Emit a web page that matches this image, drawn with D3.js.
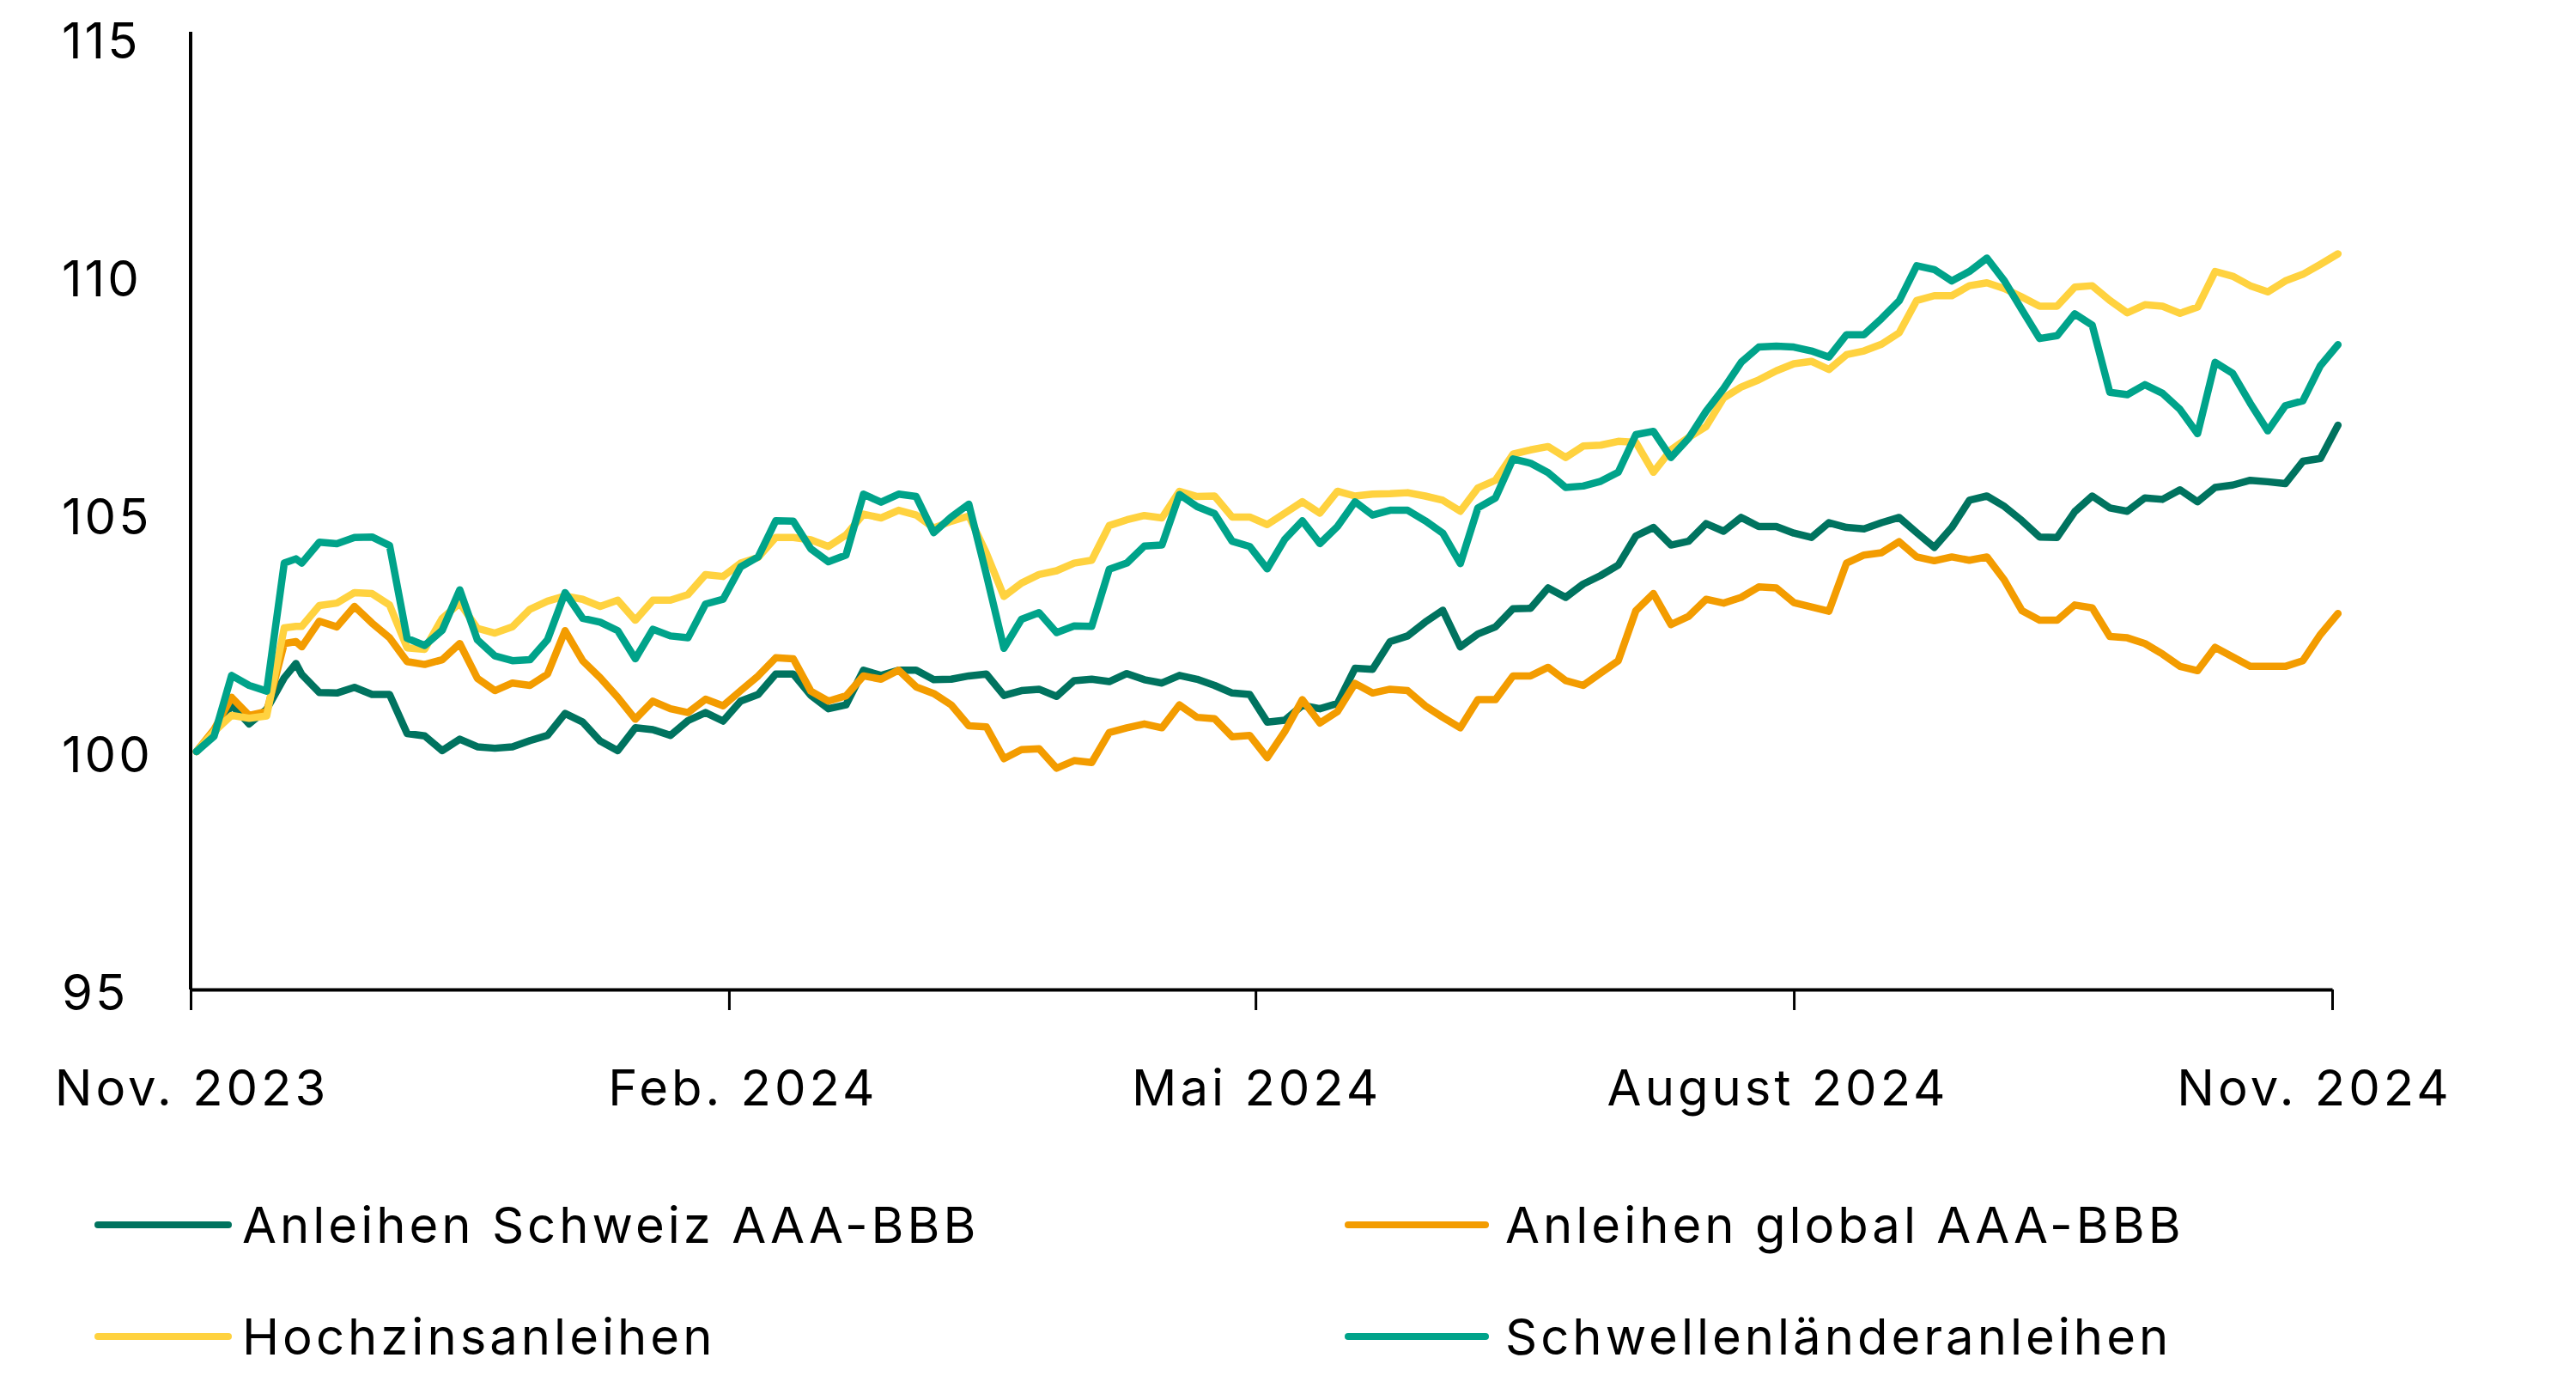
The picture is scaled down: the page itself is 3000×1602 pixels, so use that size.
<!DOCTYPE html>
<html>
<head>
<meta charset="utf-8">
<script src="https://cdn.jsdelivr.net/npm/d3@7"></script>
<style>
  html, body { margin: 0; padding: 0; background: #ffffff; }
  svg { display: block; }
  text { font-family: "Inter", "Liberation Sans", sans-serif; fill: #000; }
</style>
</head>
<body>
<svg id="chart" width="3000" height="1602"></svg>
<script>
// ---------------- DATA ----------------
const dates = [
  "2023-11-02","2023-11-05","2023-11-08","2023-11-11","2023-11-14","2023-11-17","2023-11-19","2023-11-20","2023-11-23","2023-11-26","2023-11-29",
  "2023-12-02","2023-12-05","2023-12-08","2023-12-11","2023-12-14","2023-12-17","2023-12-20","2023-12-23","2023-12-26","2023-12-29",
  "2024-01-01","2024-01-04","2024-01-07","2024-01-10","2024-01-13","2024-01-16","2024-01-19","2024-01-22","2024-01-25","2024-01-28",
  "2024-01-31","2024-02-03","2024-02-06","2024-02-09","2024-02-12","2024-02-15","2024-02-18","2024-02-21","2024-02-24","2024-02-27",
  "2024-03-01","2024-03-04","2024-03-07","2024-03-10","2024-03-13","2024-03-16","2024-03-19","2024-03-22","2024-03-25","2024-03-28",
  "2024-03-31","2024-04-03","2024-04-06","2024-04-09","2024-04-12","2024-04-15","2024-04-18","2024-04-21","2024-04-24","2024-04-27",
  "2024-04-30","2024-05-03","2024-05-06","2024-05-09","2024-05-12","2024-05-15","2024-05-18","2024-05-21","2024-05-24","2024-05-27",
  "2024-05-30","2024-06-02","2024-06-05","2024-06-08","2024-06-11","2024-06-14","2024-06-17","2024-06-20","2024-06-23","2024-06-26",
  "2024-06-29","2024-07-02","2024-07-05","2024-07-08","2024-07-11","2024-07-14","2024-07-17","2024-07-20","2024-07-23","2024-07-26",
  "2024-07-29","2024-08-01","2024-08-04","2024-08-07","2024-08-10","2024-08-13","2024-08-16","2024-08-19","2024-08-22","2024-08-25",
  "2024-08-28","2024-08-31","2024-09-03","2024-09-06","2024-09-09","2024-09-12","2024-09-15","2024-09-18","2024-09-21","2024-09-24",
  "2024-09-27","2024-09-30","2024-10-03","2024-10-06","2024-10-09","2024-10-12","2024-10-15","2024-10-18","2024-10-21","2024-10-24",
  "2024-10-27","2024-10-30","2024-11-02"
];

const schweiz = [
  100.00,100.38,100.98,100.58,100.89,101.55,101.85,101.62,101.24,101.23,101.35,
  101.20,101.20,100.38,100.33,100.02,100.26,100.10,100.07,100.10,100.23,
  100.34,100.80,100.62,100.22,100.02,100.50,100.46,100.34,100.65,100.82,
  100.64,101.06,101.20,101.63,101.63,101.18,100.90,100.98,101.71,101.60,
  101.71,101.71,101.51,101.52,101.59,101.63,101.18,101.28,101.31,101.16,
  101.49,101.52,101.47,101.64,101.51,101.44,101.60,101.52,101.39,101.23,
  101.20,100.62,100.66,100.97,100.90,101.01,101.75,101.73,102.31,102.43,
  102.72,102.97,102.20,102.47,102.62,103.00,103.01,103.44,103.24,103.52,
  103.70,103.92,104.53,104.71,104.34,104.42,104.79,104.63,104.92,104.73,
  104.73,104.59,104.50,104.81,104.71,104.68,104.81,104.92,104.60,104.29,
  104.71,105.28,105.37,105.15,104.85,104.51,104.50,105.04,105.37,105.12,
  105.05,105.33,105.30,105.50,105.25,105.55,105.60,105.70,105.67,105.63,
  106.10,106.16,106.86
];

const global = [
  100.00,100.46,101.14,100.76,100.84,102.27,102.31,102.20,102.74,102.62,103.05,
  102.70,102.39,101.89,101.83,101.93,102.27,101.54,101.28,101.44,101.39,
  101.63,102.54,101.91,101.55,101.14,100.68,101.06,100.90,100.82,101.10,
  100.96,101.28,101.59,101.97,101.95,101.27,101.06,101.17,101.59,101.52,
  101.71,101.36,101.22,100.98,100.54,100.52,99.85,100.04,100.06,99.65,
  99.81,99.77,100.40,100.50,100.58,100.50,100.98,100.72,100.69,100.31,
  100.34,99.87,100.42,101.09,100.60,100.84,101.43,101.23,101.31,101.28,
  100.96,100.72,100.50,101.09,101.09,101.59,101.59,101.77,101.49,101.39,
  101.65,101.91,102.96,103.32,102.67,102.84,103.20,103.12,103.24,103.46,
  103.44,103.13,103.04,102.95,103.96,104.13,104.18,104.41,104.09,104.01,
  104.09,104.02,104.09,103.60,102.96,102.76,102.76,103.08,103.02,102.42,
  102.39,102.27,102.05,101.79,101.70,102.19,101.99,101.79,101.79,101.79,
  101.91,102.46,102.90
];

const hochzins = [
  100.00,100.42,100.76,100.70,100.75,102.60,102.63,102.63,103.07,103.12,103.34,
  103.32,103.08,102.18,102.15,102.80,103.12,102.59,102.49,102.62,102.99,
  103.16,103.27,103.20,103.05,103.18,102.76,103.18,103.18,103.30,103.72,
  103.68,103.96,104.08,104.50,104.50,104.45,104.31,104.55,104.99,104.91,
  105.07,104.97,104.70,104.84,104.95,104.17,103.26,103.54,103.72,103.80,
  103.96,104.02,104.75,104.87,104.96,104.91,105.47,105.36,105.37,104.93,
  104.93,104.77,105.01,105.25,105.01,105.47,105.37,105.41,105.42,105.44,
  105.37,105.28,105.05,105.54,105.70,106.25,106.34,106.41,106.18,106.42,
  106.44,106.52,106.50,105.87,106.34,106.60,106.83,107.43,107.66,107.81,
  108.00,108.15,108.20,108.03,108.34,108.42,108.56,108.80,109.48,109.58,
  109.58,109.79,109.85,109.73,109.55,109.36,109.36,109.76,109.79,109.48,
  109.22,109.39,109.36,109.21,109.34,110.09,109.99,109.79,109.66,109.89,
  110.03,110.24,110.46
];

const schwellen = [
  100.00,100.32,101.60,101.39,101.27,103.96,104.05,103.96,104.40,104.37,104.50,
  104.51,104.33,102.38,102.23,102.55,103.40,102.35,102.01,101.91,101.93,
  102.35,103.34,102.80,102.72,102.54,101.95,102.57,102.43,102.39,103.10,
  103.20,103.88,104.09,104.85,104.84,104.26,103.99,104.13,105.41,105.24,
  105.41,105.36,104.60,104.93,105.20,103.72,102.17,102.78,102.92,102.50,
  102.64,102.63,103.83,103.96,104.32,104.34,105.40,105.15,105.00,104.42,
  104.31,103.84,104.46,104.85,104.37,104.73,105.25,104.97,105.07,105.07,
  104.85,104.59,103.95,105.12,105.33,106.15,106.06,105.86,105.55,105.58,
  105.68,105.87,106.66,106.73,106.18,106.58,107.15,107.63,108.18,108.50,
  108.52,108.50,108.42,108.29,108.76,108.76,109.10,109.47,110.21,110.13,
  109.89,110.09,110.37,109.89,109.28,108.68,108.74,109.20,108.96,107.55,
  107.50,107.71,107.53,107.19,106.68,108.18,107.95,107.32,106.74,107.27,
  107.37,108.11,108.55
];

const seriesNames = ["Anleihen Schweiz AAA-BBB", "Anleihen global AAA-BBB", "Hochzinsanleihen", "Schwellenländeranleihen"];
const seriesColors = ["#00735F", "#F39C00", "#FFD23F", "#00A38A"];

const yTicks = [95, 100, 105, 110, 115];
const xTickDates = ["2023-11-01", "2024-02-01", "2024-05-01", "2024-08-01", "2024-11-01"];
const xTickLabels = ["Nov. 2023", "Feb. 2024", "Mai 2024", "August 2024", "Nov. 2024"];

// ---------------- LAYOUT ----------------
const parse = d3.timeParse("%Y-%m-%d");
const svg = d3.select("#chart");
const FONT = 58;
const LS = 4;                                  // letter spacing for labels
const xLabelShift = [-1, 14, -1, -21, -23];    // label offsets relative to ticks (px)

const x = d3.scaleTime()
  .domain([parse("2023-11-01"), parse("2024-11-01")])
  .range([222, 2716]);
const y = d3.scaleLinear().domain([95, 115]).range([1152, 44]);

// Y axis
const yAxis = svg.append("g")
  .attr("transform", "translate(222,0)")
  .call(d3.axisLeft(y).tickValues(yTicks).tickSize(0).tickSizeOuter(0).tickFormat(d3.format("d")));
yAxis.select(".domain").attr("stroke", "#000").attr("stroke-width", 4).attr("d", "M0,37V1152");
yAxis.selectAll("text")
  .attr("x", -150).attr("dy", "0.36em").attr("y", 3)
  .attr("text-anchor", "start")
  .style("font-size", FONT + "px").style("font-family", "Inter")
  .style("letter-spacing", "3px").attr("fill", "#000");

// X axis
const xAxis = svg.append("g")
  .attr("transform", "translate(0,1152)")
  .call(d3.axisBottom(x)
    .tickValues(xTickDates.map(parse))
    .tickFormat((d, i) => xTickLabels[i])
    .tickSize(24).tickSizeOuter(0).tickPadding(70));
xAxis.select(".domain").attr("stroke", "#000").attr("stroke-width", 4);
xAxis.selectAll(".tick line").attr("stroke", "#000").attr("stroke-width", 3);
xAxis.selectAll("text")
  .attr("dx", (d, i) => xLabelShift[i] + LS / 2)
  .style("font-size", FONT + "px").style("font-family", "Inter")
  .style("letter-spacing", LS + "px").attr("fill", "#000");

// Lines
const allSeries = [schweiz, global, hochzins, schwellen];
const parsedDates = dates.map(parse);
const line = d3.line()
  .x((d, i) => x(parsedDates[i]))
  .y(d => y(d));

svg.append("g").selectAll("path")
  .data(allSeries)
  .join("path")
  .attr("d", d => line(d))
  .attr("fill", "none")
  .attr("stroke", (d, i) => seriesColors[i])
  .attr("stroke-width", 8.5)
  .attr("stroke-linejoin", "round")
  .attr("stroke-linecap", "round");

// Legend
const legendLineX = [[114, 266], [1570, 1730]];
const legendTextX = [282, 1753];
const legendRows = [1426, 1556];
const legend = svg.append("g");
seriesNames.forEach((name, i) => {
  const c = i % 2;
  const ly = legendRows[Math.floor(i / 2)];
  legend.append("line")
    .attr("x1", legendLineX[c][0]).attr("x2", legendLineX[c][1])
    .attr("y1", ly).attr("y2", ly)
    .attr("stroke", seriesColors[i]).attr("stroke-width", 8)
    .attr("stroke-linecap", "round");
  legend.append("text")
    .attr("x", legendTextX[c]).attr("y", ly).attr("dy", "0.36em")
    .style("font-size", FONT + "px")
    .style("letter-spacing", LS + "px")
    .text(name);
});
</script>
</body>
</html>
